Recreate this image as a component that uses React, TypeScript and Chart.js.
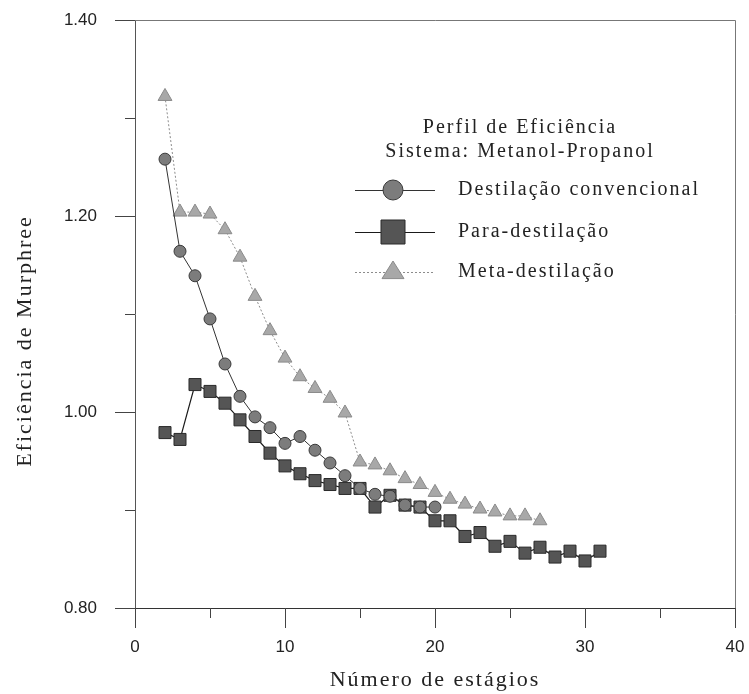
import React, { useEffect, useRef } from "react";
import { Chart, registerables } from "chart.js";

Chart.register(...registerables);

// Stage numbers and Murphree efficiencies for each configuration
const convStages = [2, 3, 4, 5, 6, 7, 8, 9, 10, 11, 12, 13, 14, 15, 16, 17, 18, 19, 20];
const convEff = [1.258, 1.164, 1.139, 1.095, 1.049, 1.016, 0.995, 0.984, 0.968, 0.975, 0.961, 0.948, 0.935, 0.922, 0.916, 0.914, 0.905, 0.903, 0.903];

const paraStages = [2, 3, 4, 5, 6, 7, 8, 9, 10, 11, 12, 13, 14, 15, 16, 17, 18, 19, 20, 21, 22, 23, 24, 25, 26, 27, 28, 29, 30, 31];
const paraEff = [0.979, 0.972, 1.028, 1.021, 1.009, 0.992, 0.975, 0.958, 0.945, 0.937, 0.93, 0.926, 0.922, 0.922, 0.903, 0.915, 0.905, 0.903, 0.889, 0.889, 0.873, 0.877, 0.863, 0.868, 0.856, 0.862, 0.852, 0.858, 0.848, 0.858];

const metaStages = [2, 3, 4, 5, 6, 7, 8, 9, 10, 11, 12, 13, 14, 15, 16, 17, 18, 19, 20, 21, 22, 23, 24, 25, 26, 27];
const metaEff = [1.322, 1.204, 1.204, 1.202, 1.186, 1.158, 1.118, 1.083, 1.055, 1.036, 1.024, 1.014, 0.999, 0.949, 0.946, 0.94, 0.932, 0.926, 0.918, 0.911, 0.906, 0.901, 0.898, 0.894, 0.894, 0.889];

const seriesLabels = ["Destilação convencional", "Para-destilação", "Meta-destilação"];
const legendTitle = ["Perfil de Eficiência", "Sistema: Metanol-Propanol"];
const xTitle = "Número de estágios";
const yTitle = "Eficiência de Murphree";

const xMin = 0, xMax = 40, xStep = 5, xLabelEvery = 10;
const yMin = 0.8, yMax = 1.4, yStep = 0.1;

const SERIF = '"Liberation Serif", "Times New Roman", serif';
const SANS = '"Liberation Sans", Arial, sans-serif';
const INK = "#222";

const pts = (xs: number[], ys: number[]) => xs.map((x, i) => ({ x, y: ys[i] }));

type Style = { shape: string; fill: string; stroke: string; line: string; lw: number; dash: number[] };
const styles: Style[] = [
  { shape: "circle", fill: "#7c7c7c", stroke: "#3a3a3a", line: "#333", lw: 1, dash: [] },
  { shape: "rect", fill: "#555", stroke: "#2a2a2a", line: "#1a1a1a", lw: 1.2, dash: [] },
  { shape: "triangle", fill: "#a8a8a8", stroke: "#8a8a8a", line: "#8c8c8c", lw: 1, dash: [2, 2] },
];

function marker(ctx: CanvasRenderingContext2D, shape: string, x: number, y: number, r: number, s: Style) {
  ctx.beginPath();
  if (shape === "circle") {
    ctx.arc(x, y, r, 0, Math.PI * 2);
  } else if (shape === "rect") {
    ctx.rect(x - r, y - r, 2 * r, 2 * r);
  } else {
    ctx.moveTo(x, y - r);
    ctx.lineTo(x + r, y + r * 0.6);
    ctx.lineTo(x - r, y + r * 0.6);
    ctx.closePath();
  }
  ctx.setLineDash([]);
  ctx.fillStyle = s.fill;
  ctx.fill();
  ctx.strokeStyle = s.stroke;
  ctx.lineWidth = 1;
  ctx.stroke();
}

const decorations = {
  id: "decorations",
  afterDraw(chart: any) {
    const ctx: CanvasRenderingContext2D = chart.ctx;
    const { left, right, top, bottom } = chart.chartArea;
    const xs = chart.scales.x;
    const ys = chart.scales.y;
    ctx.save();

    // frame on the top and right sides
    ctx.strokeStyle = "#777";
    ctx.lineWidth = 1;
    ctx.beginPath();
    ctx.moveTo(left, top + 0.5);
    ctx.lineTo(right + 0.5, top + 0.5);
    ctx.lineTo(right + 0.5, bottom);
    ctx.stroke();

    // outward major/minor ticks
    ctx.strokeStyle = "#444";
    xs.ticks.forEach((t: any) => {
      const px = Math.round(xs.getPixelForValue(t.value)) + 0.5;
      const major = Math.round(t.value) % xLabelEvery === 0;
      ctx.beginPath();
      ctx.moveTo(px, bottom);
      ctx.lineTo(px, bottom + (major ? 20 : 10));
      ctx.stroke();
    });
    ys.ticks.forEach((t: any) => {
      const py = Math.round(ys.getPixelForValue(t.value)) + 0.5;
      const major = Math.round(t.value * 10) % 2 === 0;
      ctx.beginPath();
      ctx.moveTo(left, py);
      ctx.lineTo(left - (major ? 20 : 10), py);
      ctx.stroke();
    });

    // axis titles
    ctx.fillStyle = INK;
    ctx.font = `22px ${SERIF}`;
    (ctx as any).letterSpacing = "2px";
    ctx.textAlign = "center";
    ctx.textBaseline = "middle";
    ctx.fillText(xTitle, (left + right) / 2, 680);
    ctx.save();
    ctx.translate(25, 341);
    ctx.rotate(-Math.PI / 2);
    ctx.fillText(yTitle, 0, 0);
    ctx.restore();

    // legend block inside the plot
    ctx.font = `20px ${SERIF}`;
    (ctx as any).letterSpacing = "2px";
    ctx.fillText(legendTitle[0], 520, 128);
    ctx.fillText(legendTitle[1], 520, 152);
    const rows = [190, 232, 272];
    const radii = [10, 12, 11];
    chart.data.datasets.forEach((ds: any, i: number) => {
      const s = styles[i];
      const y = rows[i];
      ctx.strokeStyle = s.line;
      ctx.lineWidth = s.lw;
      ctx.setLineDash(s.dash);
      ctx.beginPath();
      ctx.moveTo(355, y + 0.5);
      ctx.lineTo(435, y + 0.5);
      ctx.stroke();
      marker(ctx, s.shape, 393, y, radii[i], s);
      ctx.fillStyle = INK;
      ctx.textAlign = "left";
      ctx.fillText(ds.label, 458, y);
      ctx.textAlign = "center";
    });
    ctx.restore();
  },
};

const noPad = (s: any) => {
  s.paddingTop = 0;
  s.paddingBottom = 0;
  s.paddingLeft = 0;
  s.paddingRight = 0;
};

export default function App() {
  const ref = useRef<HTMLCanvasElement | null>(null);

  useEffect(() => {
    if (!ref.current) return;
    const pointStyles = ["circle", "rect", "triangle"];
    const radii = [6, 8.5, 8];
    const data = [pts(convStages, convEff), pts(paraStages, paraEff), pts(metaStages, metaEff)];
    const chart = new Chart(ref.current, {
      type: "line",
      data: {
        datasets: data.map((d, i) => ({
          label: seriesLabels[i],
          data: d,
          borderColor: styles[i].line,
          borderWidth: styles[i].lw,
          borderDash: styles[i].dash,
          backgroundColor: styles[i].fill,
          pointStyle: pointStyles[i] as any,
          pointRadius: radii[i],
          pointBackgroundColor: styles[i].fill,
          pointBorderColor: styles[i].stroke,
          pointBorderWidth: 1,
          tension: 0,
          fill: false,
        })),
      },
      options: {
        responsive: false,
        animation: false,
        events: [],
        layout: { padding: { left: 0, top: 20, right: 14, bottom: 0 } },
        plugins: { legend: { display: false }, tooltip: { enabled: false }, title: { display: false } },
        scales: {
          x: {
            type: "linear",
            min: xMin,
            max: xMax,
            afterFit: (s: any) => { s.height = 86; noPad(s); },
            grid: { display: false, drawTicks: false },
            border: { display: true, color: "#333", width: 1 },
            ticks: {
              stepSize: xStep,
              padding: 29,
              color: INK,
              font: { family: SANS, size: 17 },
              maxRotation: 0,
              autoSkip: false,
              callback: (v: any) => (Math.round(v) % xLabelEvery === 0 ? String(Math.round(v)) : ""),
            },
          },
          y: {
            type: "linear",
            min: yMin,
            max: yMax,
            afterFit: (s: any) => { s.width = 135; noPad(s); },
            grid: { display: false, drawTicks: false },
            border: { display: true, color: "#555", width: 1 },
            ticks: {
              stepSize: yStep,
              padding: 38,
              color: INK,
              font: { family: SANS, size: 17 },
              autoSkip: false,
              callback: (v: any) => (Math.round(v * 10) % 2 === 0 ? Number(v).toFixed(2) : ""),
            },
          },
        },
      },
      plugins: [decorations],
    });
    return () => chart.destroy();
  }, []);

  return (
    <div style={{ position: "absolute", left: 0, top: 0, width: 749, height: 694, background: "#fff" }}>
      <canvas ref={ref} width={749} height={694} style={{ display: "block" }} />
    </div>
  );
}
